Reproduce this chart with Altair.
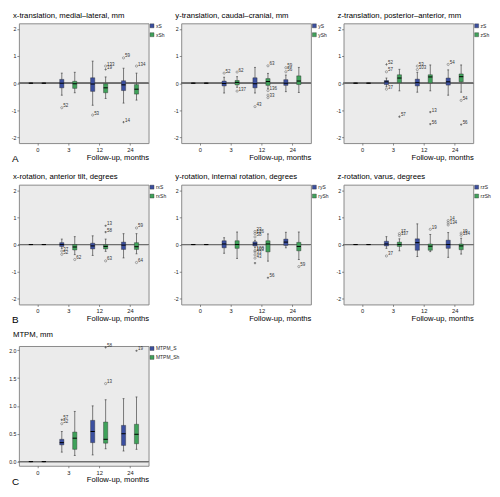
import altair as alt
import pandas as pd

FONT = "Liberation Sans"
BLUE = "#3b4fa0"
GREEN = "#3fa25a"

MONTHS = ["0", "3", "12", "24"]

# five-number summaries per follow-up month: [whisker low, Q1, median, Q3, whisker high]
XT_S = [[0, 0, 0, 0, 0], [-0.44, -0.17, 0.0, 0.14, 0.37], [-0.81, -0.30, -0.03, 0.20, 0.81], [-0.73, -0.27, -0.06, 0.09, 0.55]]
XT_SH = [[0, 0, 0, 0, 0], [-0.35, -0.19, -0.02, 0.07, 0.40], [-0.56, -0.35, -0.17, -0.02, 0.23], [-0.62, -0.40, -0.22, -0.05, 0.37]]
XT_OUT = [("S", "3", -0.90, "52", "o"), ("S", "12", -1.17, "53", "o"), ("Sh", "12", 0.63, "133", "o"),
          ("Sh", "12", 0.51, "19", "*"), ("S", "24", 0.93, "59", "o"), ("S", "24", -1.43, "14", "*"),
          ("Sh", "24", 0.63, "134", "o")]

YT_S = [[0, 0, 0, 0, 0], [-0.36, -0.10, -0.01, 0.08, 0.22], [-0.36, -0.17, -0.02, 0.20, 0.58], [-0.31, -0.08, 0.0, 0.13, 0.30]]
YT_SH = [[0, 0, 0, 0, 0], [-0.15, -0.06, 0.03, 0.10, 0.24], [-0.20, -0.08, 0.06, 0.17, 0.36], [-0.34, -0.05, 0.08, 0.27, 0.58]]
YT_OUT = [("S", "3", 0.37, "52", "o"), ("Sh", "3", 0.41, "62", "o"), ("Sh", "3", -0.29, "137", "o"),
          ("S", "12", -0.86, "43", "o"), ("Sh", "12", 0.64, "63", "o"), ("Sh", "12", -0.27, "136", "o"),
          ("Sh", "12", -0.44, "", "o"), ("Sh", "12", -0.53, "33", "o"), ("S", "24", 0.57, "59", "o"),
          ("S", "24", 0.42, "56", "o")]

ZT_S = [[0, 0, 0, 0, 0], [-0.13, -0.05, 0.05, 0.10, 0.19], [-0.33, -0.10, 0.02, 0.15, 0.40], [-0.44, -0.07, 0.05, 0.19, 0.49]]
ZT_SH = [[0, 0, 0, 0, 0], [-0.28, 0.02, 0.19, 0.31, 0.51], [-0.28, 0.01, 0.23, 0.31, 0.67], [-0.33, 0.05, 0.24, 0.34, 0.67]]
ZT_OUT = [("S", "3", 0.69, "52", "*"), ("S", "3", 0.42, "57", "o"), ("S", "3", -0.22, "37", "o"),
          ("Sh", "3", -1.23, "57", "*"), ("S", "12", 0.63, "53", "o"), ("S", "12", 0.50, "103", "o"),
          ("Sh", "12", -1.06, "13", "*"), ("Sh", "12", -1.50, "56", "*"), ("S", "24", 0.69, "54", "o"),
          ("Sh", "24", -0.63, "54", "o"), ("Sh", "24", -1.52, "56", "*")]

XR_S = [[0, 0, 0, 0, 0], [-0.14, -0.07, 0.0, 0.07, 0.20], [-0.40, -0.16, -0.05, 0.05, 0.32], [-0.49, -0.18, -0.02, 0.09, 0.40]]
XR_SH = [[0, 0, 0, 0, 0], [-0.37, -0.20, -0.09, 0.0, 0.29], [-0.25, -0.16, -0.07, -0.01, 0.20], [-0.34, -0.18, -0.08, 0.07, 0.40]]
XR_OUT = [("S", "3", -0.24, "37", "o"), ("S", "3", -0.36, "52", "o"), ("Sh", "3", -0.55, "62", "o"),
          ("Sh", "12", 0.69, "13", "*"), ("Sh", "12", 0.46, "58", "*"), ("Sh", "12", -0.60, "63", "o"),
          ("Sh", "24", 0.61, "59", "o"), ("Sh", "24", -0.66, "64", "o")]

YR_S = [[0, 0, 0, 0, 0], [-0.32, -0.12, 0.02, 0.14, 0.25], [-0.12, -0.05, 0.02, 0.10, 0.16], [-0.12, -0.03, 0.09, 0.20, 0.45]]
YR_SH = [[0, 0, 0, 0, 0], [-0.51, -0.14, 0.0, 0.14, 0.46], [-0.61, -0.27, 0.02, 0.14, 0.39], [-0.55, -0.23, -0.07, 0.08, 0.46]]
YR_OUT = [("S", "12", 0.48, "23", "o"), ("S", "12", 0.40, "126", "o"), ("S", "12", 0.28, "58", "o"),
          ("S", "12", -0.22, "100", "o"), ("S", "12", -0.27, "103", "o"), ("S", "12", -0.38, "33", "o"),
          ("S", "12", -0.50, "43", "o"), ("S", "12", -0.68, "", "*"), ("Sh", "12", -1.22, "56", "*"),
          ("Sh", "24", -0.81, "59", "o")]

ZR_S = [[0, 0, 0, 0, 0], [-0.14, -0.05, 0.02, 0.12, 0.29], [-0.44, -0.21, 0.07, 0.21, 0.76], [-0.47, -0.14, 0.0, 0.16, 0.44]]
ZR_SH = [[0, 0, 0, 0, 0], [-0.23, -0.07, 0.0, 0.09, 0.21], [-0.26, -0.21, -0.06, 0.02, 0.37], [-0.35, -0.19, -0.05, 0.02, 0.23]]
ZR_OUT = [("S", "3", -0.42, "37", "o"), ("Sh", "3", 0.40, "17", "o"), ("Sh", "3", 0.33, "137", "o"),
          ("Sh", "12", 0.56, "19", "o"), ("S", "24", 0.88, "14", "o"), ("S", "24", 0.80, "", "o"),
          ("S", "24", 0.72, "134", "o"), ("Sh", "24", 0.42, "19", "o"), ("Sh", "24", 0.34, "134", "o")]

MT_S = [[0, 0, 0, 0, 0], [0.17, 0.30, 0.34, 0.40, 0.54], [0.12, 0.34, 0.54, 0.74, 1.00], [0.19, 0.29, 0.50, 0.65, 1.13]]
MT_SH = [[0, 0, 0, 0, 0], [0.11, 0.22, 0.42, 0.53, 0.90], [0.23, 0.33, 0.40, 0.71, 1.11], [0.22, 0.32, 0.49, 0.67, 1.16]]
MT_OUT = [("S", "3", 0.68, "52", "o"), ("S", "3", 0.75, "57", "*"), ("Sh", "12", 1.40, "13", "o"),
          ("Sh", "12", 2.05, "58", "*"), ("Sh", "24", 1.99, "19", "*")]

OFFSET = {"S": -0.21, "Sh": 0.21}
BOXH = 0.068
CAPH = 0.03
W, H = 131, 121


def panel(title, names, s_stats, sh_stats, outliers, dom, ticks, label_expr, letter=None):
    rows = []
    for key, nm, stats in (("S", names[0], s_stats), ("Sh", names[1], sh_stats)):
        for i, m in enumerate(MONTHS):
            lo, q1, md, q3, hi = stats[i]
            p = i + OFFSET[key]
            rows.append(dict(series=nm, month=m, pos=p, lo=lo, q1=q1, med=md, q3=q3, hi=hi,
                             xl=p - BOXH, xr=p + BOXH, cl=p - CAPH, cr=p + CAPH))
    box = pd.DataFrame(rows)
    out = pd.DataFrame([dict(series=names[0] if s == "S" else names[1],
                             pos=MONTHS.index(m) + OFFSET[s], val=v, lab=l, kind=k)
                        for s, m, v, l, k in outliers])

    xs = alt.Scale(domain=[-0.6, 3.6], nice=False, zero=False)
    ys = alt.Scale(domain=dom, nice=False, zero=False)
    xax = alt.Axis(values=[0, 1, 2, 3],
                   labelExpr="[" + ",".join("'%s'" % m for m in MONTHS) + "][datum.value]",
                   title="Follow-up, months", titleAnchor="end", titleFontSize=7.7,
                   titleFontWeight="normal", titlePadding=1, titleColor="black",
                   grid=False, domain=False, tickSize=2, tickWidth=0.6, tickColor="#444",
                   labelFontSize=5.8, labelPadding=1.5, labelColor="#222")
    yax = alt.Axis(values=ticks, labelExpr=label_expr, title=None, grid=False, domain=False,
                   tickSize=2, tickWidth=0.6, tickColor="#444", labelFontSize=5.3,
                   labelPadding=1, labelColor="#222")

    def X(f):
        return alt.X(f + ":Q", scale=xs, axis=xax)

    def Y(f):
        return alt.Y(f + ":Q", scale=ys, axis=yax)

    base = alt.Chart(box)
    zero = alt.Chart(box).mark_rule(color="#6f6f6f", strokeWidth=1).encode(y=alt.Y(datum=0, scale=ys, axis=yax))
    whisk = base.mark_rule(color="#5a5a5a", strokeWidth=0.8).encode(x=X("pos"), y=Y("lo"), y2="hi:Q")
    cap_lo = base.mark_rule(color="#444", strokeWidth=0.7).encode(x=X("cl"), x2="cr:Q", y=Y("lo"))
    cap_hi = base.mark_rule(color="#444", strokeWidth=0.7).encode(x=X("cl"), x2="cr:Q", y=Y("hi"))
    bars = base.mark_bar(stroke="#2a2a2a", strokeWidth=0.4).encode(
        x=X("xl"), x2="xr:Q", y=Y("q1"), y2="q3:Q",
        color=alt.Color("series:N", scale=alt.Scale(domain=list(names), range=[BLUE, GREEN]),
                        legend=alt.Legend(title=None, orient="right", offset=1, padding=0,
                                          symbolType="square", symbolSize=16,
                                          symbolStrokeColor="#333", symbolStrokeWidth=0.4,
                                          labelFontSize=5, labelOffset=1.5, rowPadding=2,
                                          labelColor="#222")))
    med = base.mark_rule(color="black", strokeWidth=1).encode(x=X("xl"), x2="xr:Q", y=Y("med"))
    circ = alt.Chart(out).transform_filter("datum.kind == 'o'").mark_point(
        shape="circle", filled=False, size=5, strokeWidth=0.6, color="#444").encode(x=X("pos"), y=Y("val"))
    star = alt.Chart(out).transform_filter("datum.kind == '*'").mark_point(
        shape="cross", filled=True, size=5, color="#333").encode(x=X("pos"), y=Y("val"))
    labs = alt.Chart(out).mark_text(align="left", baseline="bottom", dx=1.5, dy=0.5,
                                    fontSize=4.5, color="#333").encode(x=X("pos"), y=Y("val"), text="lab:N")
    layers = [zero, whisk, cap_lo, cap_hi, bars, med, circ, star, labs]
    if letter:
        layers.append(alt.Chart(pd.DataFrame({"t": [letter]})).mark_text(
            align="left", baseline="alphabetic", fontSize=10, color="black").encode(
            text="t:N", x=alt.value(-7), y=alt.value(H + 19)))
    return alt.layer(*layers).properties(
        width=W, height=H,
        title=alt.TitleParams(text=title, anchor="start", frame="group", dx=-6, fontSize=7.8,
                              fontWeight="normal", offset=4, color="black"))


TR_DOM = [-2.2, 2.2]
TR_TICKS = [-2, -1, 0, 1, 2]
TR_LAB = "'' + datum.value"

pA = panel("x-translation, medial\u2013lateral, mm", ("xS", "xSh"), XT_S, XT_SH, XT_OUT, TR_DOM, TR_TICKS, TR_LAB, "A")
pB = panel("y-translation, caudal\u2013cranial, mm", ("yS", "ySh"), YT_S, YT_SH, YT_OUT, TR_DOM, TR_TICKS, TR_LAB)
pC = panel("z-translation, posterior\u2013anterior, mm", ("zS", "zSh"), ZT_S, ZT_SH, ZT_OUT, TR_DOM, TR_TICKS, TR_LAB)
pD = panel("x-rotation, anterior tilt, degrees", ("rxS", "rxSh"), XR_S, XR_SH, XR_OUT, TR_DOM, TR_TICKS, TR_LAB, "B")
pE = panel("y-rotation, internal rotation, degrees", ("ryS", "rySh"), YR_S, YR_SH, YR_OUT, TR_DOM, TR_TICKS, TR_LAB)
pF = panel("z-rotation, varus, degrees", ("rzS", "rzSh"), ZR_S, ZR_SH, ZR_OUT, TR_DOM, TR_TICKS, TR_LAB)
pG = panel("MTPM, mm", ("MTPM_S", "MTPM_Sh"), MT_S, MT_SH, MT_OUT, [-0.075, 2.075],
           [0, 0.5, 1.0, 1.5, 2.0], "format(datum.value, '.1f')", "C")

chart = alt.concat(pA, pB, pC, pD, pE, pF, pG, columns=3,
                   spacing={"row": 42, "column": 33}, bounds="flush").resolve_scale(
    x="independent", y="independent", color="independent"
).properties(padding=0).configure(font=FONT).configure_title(color="black").configure_view(
    fill="#ebebeb", stroke="#8a8a8a", strokeWidth=1)

chart.save("out.html", embed_options={"renderer": "svg", "actions": False})
